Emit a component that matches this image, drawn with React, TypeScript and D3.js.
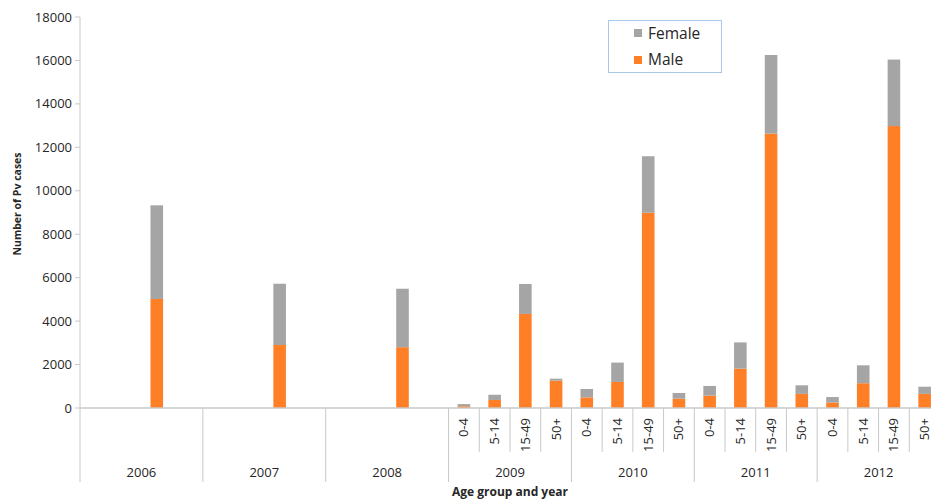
import React from "react";
import * as d3 from "d3";

// Age-group breakdown only exists from 2009 onward; earlier years hold a single total in slot 3
const years = ["2006", "2007", "2008", "2009", "2010", "2011", "2012"];
const ageGroups = ["0-4", "5-14", "15-49", "50+"];
const yearShowsAgeGroups = [false, false, false, true, true, true, true];

const maleCases = [
  [0, 0, 5020, 0],
  [0, 0, 2900, 0],
  [0, 0, 2800, 0],
  [80, 370, 4330, 1260],
  [490, 1200, 8990, 430],
  [570, 1810, 12630, 650],
  [250, 1140, 12980, 650],
];
const femaleCases = [
  [0, 0, 4310, 0],
  [0, 0, 2820, 0],
  [0, 0, 2690, 0],
  [100, 240, 1380, 90],
  [385, 890, 2600, 260],
  [445, 1210, 3620, 395],
  [255, 825, 3060, 330],
];

const yTicks = [0, 2000, 4000, 6000, 8000, 10000, 12000, 14000, 16000, 18000];

const W = 931;
const H = 499;
const LEFT = 80;
const RIGHT = 940;
const TOP = 17;
const BASE = 408;
const MALE = "#FF7F27";
const FEMALE = "#A5A5A5";
const AXIS = "#C8C8C8";
const TEXT = "#262626";
const FONT = "'Open Sans', sans-serif";

export default function App() {
  const slots = years.flatMap((yr) => ageGroups.map((ag) => `${yr}|${ag}`));

  const x = d3.scaleBand<string>().domain(slots).range([LEFT, RIGHT]).paddingInner(0.59).paddingOuter(0.295);
  const xGroup = d3.scaleBand<string>().domain(years).range([LEFT, RIGHT]).padding(0);
  const y = d3.scaleLinear().domain([0, 18000]).range([BASE, TOP]);
  const step = x.step();

  const bars = years.flatMap((yr, yi) =>
    ageGroups.map((ag, ai) => ({
      key: `${yr}|${ag}`,
      male: maleCases[yi][ai],
      female: femaleCases[yi][ai],
    }))
  ).filter((d) => d.male + d.female > 0);

  return (
    <svg width={W} height={H} style={{ position: "absolute", left: 0, top: 0, background: "#fff" }} fontFamily={FONT}>
      {/* y axis */}
      <line x1={LEFT} x2={LEFT} y1={TOP} y2={482} stroke={AXIS} />
      {yTicks.map((t) => (
        <g key={t}>
          <line x1={LEFT - 5} x2={LEFT} y1={y(t)} y2={y(t)} stroke={AXIS} />
          <text x={72} y={y(t)} dy="0.35em" textAnchor="end" fontSize={13} fill={TEXT}>
            {t}
          </text>
        </g>
      ))}
      <text
        transform={`translate(21,${204}) rotate(-90)`}
        textAnchor="middle"
        fontSize={10.5}
        fontWeight="bold"
        fill={TEXT}
      >
        Number of Pv cases
      </text>

      {/* bars */}
      {bars.map((d) => {
        const bx = x(d.key) ?? 0;
        return (
          <g key={d.key}>
            <rect x={bx} width={x.bandwidth()} y={y(d.male)} height={BASE - y(d.male)} fill={MALE} />
            <rect
              x={bx}
              width={x.bandwidth()}
              y={y(d.male + d.female)}
              height={y(d.male) - y(d.male + d.female)}
              fill={FEMALE}
            />
          </g>
        );
      })}

      {/* x axis baseline */}
      <line x1={LEFT} x2={RIGHT} y1={BASE} y2={BASE} stroke={AXIS} strokeWidth={1.5} />

      {/* group boundaries and labels */}
      {years.map((yr, yi) => {
        const gx = xGroup(yr) ?? 0;
        const gw = xGroup.bandwidth();
        return (
          <g key={yr}>
            <line x1={gx + gw} x2={gx + gw} y1={BASE} y2={482} stroke={AXIS} />
            <text x={gx + gw / 2} y={477} textAnchor="middle" fontSize={13} fill={TEXT}>
              {yr}
            </text>
            {yearShowsAgeGroups[yi] &&
              ageGroups.map((ag, ai) => {
                const sx = (x(`${yr}|${ag}`) ?? 0) + x.bandwidth() / 2;
                return (
                  <g key={ag}>
                    {ai > 0 && (
                      <line x1={sx - step / 2} x2={sx - step / 2} y1={BASE} y2={452} stroke={AXIS} />
                    )}
                    <text
                      transform={`translate(${sx + 4.5},418) rotate(-90)`}
                      textAnchor="end"
                      fontSize={13}
                      fill={TEXT}
                    >
                      {ag}
                    </text>
                  </g>
                );
              })}
          </g>
        );
      })}
      <text x={(LEFT + RIGHT) / 2} y={496} textAnchor="middle" fontSize={12} fontWeight="bold" fill={TEXT}>
        Age group and year
      </text>

      {/* legend */}
      <rect x={608.5} y={20.5} width={113} height={52} fill="#fff" stroke="#A9C8E8" />
      <rect x={634} y={29} width={8} height={8} fill={FEMALE} />
      <text x={648} y={38.5} fontSize={15.5} fill={TEXT}>
        Female
      </text>
      <rect x={634} y={56} width={8} height={8} fill={MALE} />
      <text x={648} y={65} fontSize={15.5} fill={TEXT}>
        Male
      </text>
    </svg>
  );
}
